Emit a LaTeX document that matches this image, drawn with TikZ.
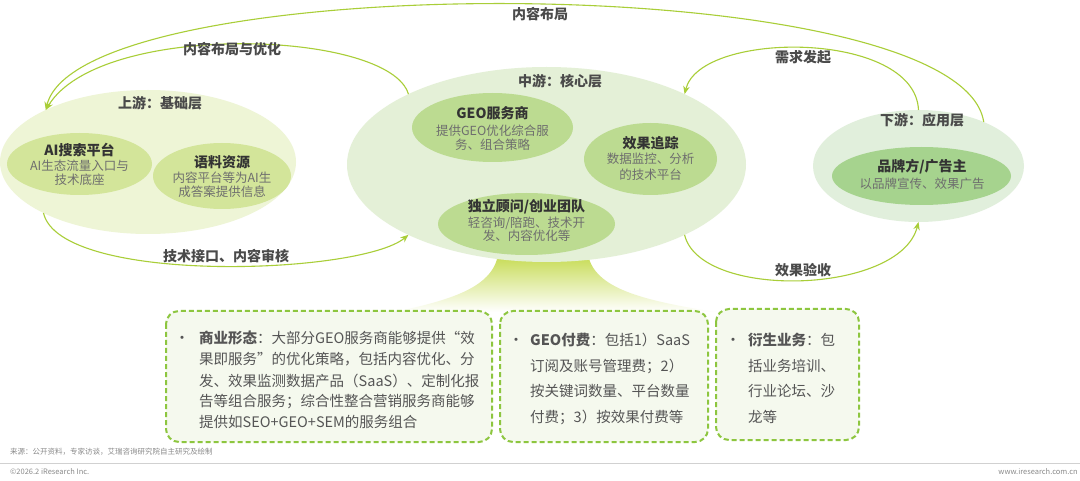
\documentclass[tikz,border=0pt]{standalone}
\usepackage{fontspec}
\setmainfont{Noto Sans CJK SC}
\usetikzlibrary{shapes.geometric,arrows.meta}
\definecolor{upOut}{HTML}{EEF5D6}
\definecolor{upIn}{HTML}{D3E59A}
\definecolor{midOut}{HTML}{E4F0D7}
\definecolor{midIn}{HTML}{BCDB91}
\definecolor{dnOut}{HTML}{E1EFDC}
\definecolor{dnIn}{HTML}{A6D38E}
\definecolor{arrowc}{HTML}{A9CE38}
\definecolor{boxc}{HTML}{8DC63F}
\definecolor{boxfill}{HTML}{F5F9EE}
\definecolor{trunk}{HTML}{C6DB52}
\definecolor{tdark}{HTML}{333333}
\definecolor{tlab}{HTML}{4A4A4A}
\definecolor{tgray}{HTML}{6E6E6E}
\definecolor{tbody}{HTML}{555555}
\definecolor{tfoot}{HTML}{8A8A8A}
\begin{document}
\begin{tikzpicture}[x=1pt,y=-1pt,
  ell/.style={ellipse, inner sep=0pt, outer sep=0pt, draw=none},
  ttl/.style={font=\fontsize{14}{16}\selectfont\bfseries, text=tdark, inner sep=0pt},
  sub/.style={font=\fontsize{12.5}{14}\selectfont, text=tgray, inner sep=0pt},
  layer/.style={font=\fontsize{14}{16}\selectfont\bfseries, text=tlab, inner sep=0pt},
  flow/.style={draw=arrowc, line width=1.1pt, -{Stealth[length=8pt,width=6.5pt]}},
  lab/.style={font=\fontsize{14}{16}\selectfont\bfseries, text=tlab, inner sep=0pt},
  dbox/.style={draw=boxc, fill=boxfill, line width=2pt, dash pattern=on 5pt off 3pt, rounded corners=13pt},
  btxt/.style={font=\fontsize{14.5}{16}\selectfont, text=tbody, anchor=west, inner sep=0pt},
  bul/.style={font=\fontsize{15}{16}\selectfont, text=tbody, inner sep=0pt},
  foot/.style={font=\fontsize{7.5}{9}\selectfont, text=tfoot, inner sep=0pt}]
\useasboundingbox (0,0) rectangle (1080,481);
\fill[white] (0,0) rectangle (1080,481);

% trunk
\shade[top color=trunk, bottom color=white]
  (498,255) .. controls (492,288) and (450,300) .. (395,312) -- (715,312)
  .. controls (640,300) and (595,288) .. (588,255) -- cycle;

% upstream
\node[ell, fill=upOut, minimum width=296pt, minimum height=144pt] (up) at (148,162) {};
\node[ell, fill=upIn, minimum width=145pt, minimum height=62pt] (ai) at (79.5,164) {};
\node[ell, fill=upIn, minimum width=138pt, minimum height=66pt] (corp) at (222,176) {};
\node[layer] (uplab) at (160,103) {上游：基础层};
\node[ttl] (ait) at (79.5,150) {AI搜索平台};
\node[sub] (ais1) at (79.5,166) {AI生态流量入口与};
\node[sub] (ais2) at (79.5,180) {技术底座};
\node[ttl] (corpt) at (222,162) {语料资源};
\node[sub] (corps1) at (222,178) {内容平台等为AI生};
\node[sub] (corps2) at (222,192) {成答案提供信息};

% midstream
\node[ell, fill=midOut, minimum width=399pt, minimum height=195pt] (mid) at (546.5,164.5) {};
\node[ell, fill=midIn, minimum width=161pt, minimum height=69pt] (geo) at (492.5,127.5) {};
\node[ell, fill=midIn, minimum width=133pt, minimum height=72pt] (track) at (650.5,159) {};
\node[ell, fill=midIn, minimum width=177pt, minimum height=62pt] (team) at (526.5,224) {};
\node[layer] (midlab) at (560,81) {中游：核心层};
\node[ttl] (geot) at (492.5,113) {GEO服务商};
\node[sub] (geos1) at (492.5,131) {提供GEO优化综合服};
\node[sub] (geos2) at (492.5,145) {务、组合策略};
\node[ttl] (trackt) at (650.5,143) {效果追踪};
\node[sub] (tracks1) at (650.5,159) {数据监控、分析};
\node[sub] (tracks2) at (650.5,175) {的技术平台};
\node[ttl] (teamt) at (526.5,207) {独立顾问/创业团队};
\node[sub] (teams1) at (526.5,223) {轻咨询/陪跑、技术开};
\node[sub] (teams2) at (526.5,236) {发、内容优化等};

% downstream
\node[ell, fill=dnOut, minimum width=211pt, minimum height=112pt] (dn) at (918.5,166) {};
\node[ell, fill=dnIn, minimum width=179pt, minimum height=58pt] (brand) at (921.5,176) {};
\node[layer] (dnlab) at (922,120) {下游：应用层};
\node[ttl] (brandt) at (922,167) {品牌方/广告主};
\node[sub] (brands1) at (922,184) {以品牌宣传、效果广告};

% flows
\draw[flow] (dn.34) .. controls (960,-33) and (80,-33) .. (up.153.6);
\draw[flow] (mid.153.5) .. controls (390,30) and (100,20) .. (up.153.6);
\draw[flow] (up.206.6) .. controls (60,285) and (360,275) .. (mid.207.5);
\draw[flow] (dn.90) .. controls (915,30) and (700,30) .. (mid.27);
\draw[flow] (mid.-27) .. controls (700,300) and (900,295) .. (dn.270);
\node[lab] (l1) at (540,14) {内容布局};
\node[lab] (l2) at (232,49) {内容布局与优化};
\node[lab] (l3) at (226,256) {技术接口、内容审核};
\node[lab] (l4) at (803,57) {需求发起};
\node[lab] (l5) at (803,270) {效果验收};

% boxes
\draw[dbox] (166,311) rectangle (492,442);
\draw[dbox] (500,311) rectangle (708,442);
\draw[dbox] (716,309) rectangle (859,440);

\node[bul] (b1d) at (182,340) {•};
\node[btxt] (b1a) at (199,338) {\textbf{商业形态}：大部分GEO服务商能够提供“效};
\node[btxt] (b1b) at (199,359) {果即服务”的优化策略，包括内容优化、分};
\node[btxt] (b1c) at (199,381) {发、效果监测数据产品（SaaS）、定制化报};
\node[btxt] (b1e) at (199,402) {告等组合服务；综合性整合营销服务商能够};
\node[btxt] (b1f) at (199,422) {提供如SEO+GEO+SEM的服务组合};

\node[bul] (b2d) at (516,342) {•};
\node[btxt] (b2a) at (530,340) {\textbf{GEO付费}：包括1）SaaS};
\node[btxt] (b2b) at (530,366) {订阅及账号管理费；2）};
\node[btxt] (b2c) at (530,391) {按关键词数量、平台数量};
\node[btxt] (b2e) at (530,417) {付费；3）按效果付费等};

\node[bul] (b3d) at (733,342) {•};
\node[btxt] (b3a) at (748,340) {\textbf{衍生业务}：包};
\node[btxt] (b3b) at (748,366) {括业务培训、};
\node[btxt] (b3c) at (748,391) {行业论坛、沙};
\node[btxt] (b3e) at (748,417) {龙等};

% footer
\node[foot, anchor=west] (src) at (10,452) {来源：公开资料，专家访谈，艾瑞咨询研究院自主研究及绘制};
\draw[draw=black!18, line width=0.8pt] (0,463) -- (1080,463);
\node[foot, anchor=west] (copy) at (10,472) {©2026.2 iResearch Inc.};
\node[foot, anchor=east] (www) at (1078,472) {www.iresearch.com.cn};
\end{tikzpicture}
\end{document}
